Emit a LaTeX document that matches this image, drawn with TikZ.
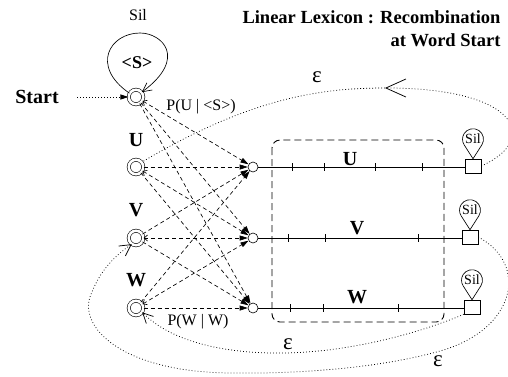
\documentclass[tikz,border=0pt]{standalone}
\usepackage{fontspec}
\setmainfont{Liberation Serif}
\usetikzlibrary{arrows.meta}
\begin{document}
\begin{tikzpicture}[x=1pt,y=-1pt,
  dcirc/.style={draw, circle, double, double distance=2.6pt, line width=0.6pt, minimum size=14.5pt, inner sep=0pt},
  scirc/.style={draw, circle, line width=0.6pt, minimum size=10pt, inner sep=0pt},
  sqbox/.style={draw, rectangle, line width=0.6pt, minimum width=16pt, minimum height=14pt, inner sep=0pt},
  dsh/.style={dash pattern=on 4pt off 3pt, line width=0.65pt},
  dotline/.style={dash pattern=on 0.8pt off 2.2pt, line width=0.75pt},
  tofill/.style={-{Triangle[length=8pt,width=5pt]}},
  bothtip/.style={{Straight Barb[length=3.5pt,width=6pt]}-{Triangle[length=8pt,width=5pt]}},
  blab/.style={font=\bfseries\fontsize{18.5}{20}\selectfont},
  wlab/.style={font=\bfseries\fontsize{20}{22}\selectfont},
  plab/.style={font=\fontsize{16}{18}\selectfont},
  eps/.style={font=\fontsize{23}{24}\selectfont},
  ball/.style={font=\fontsize{14}{15}\selectfont, inner sep=0pt}
]
\useasboundingbox (0,0) rectangle (508,376);

% title
\node[blab, anchor=east] (t1) at (504,17) {Linear Lexicon : Recombination};
\node[blab, anchor=east] (t2) at (504,40) {at Word Start};

% left states
\node[dcirc] (S) at (136,97) {};
\node[dcirc] (U) at (136,167) {};
\node[dcirc] (V) at (136,238) {};
\node[dcirc] (W) at (136,308) {};
\node[wlab] (lU) at (136,140) {U};
\node[wlab] (lV) at (136,210) {V};
\node[wlab] (lW) at (136,280) {W};
\node[font=\fontsize{16}{17}\selectfont] (sil0) at (138,15) {Sil};
\node[font=\bfseries\fontsize{18}{20}\selectfont] (lS) at (137,63) {<S>};
\node[font=\bfseries\fontsize{20}{22}\selectfont] (start) at (37,97) {Start};
\coordinate (st) at (77,97);
\draw[dotline, tofill] (st) -- (S);

% self loop on <S>
\draw[line width=0.65pt, -{Straight Barb[length=9pt,width=9pt]}]
  (S.150) .. controls (90,66) and (110,33) .. (140,33)
  .. controls (162,33) and (188,58) .. (S.40);

% word start circles
\node[scirc] (cU) at (253,167) {};
\node[scirc] (cV) at (253,238) {};
\node[scirc] (cW) at (253,308) {};

% squares
\node[sqbox] (sqU) at (473,166) {};
\node[sqbox] (sqV) at (470,237) {};
\node[sqbox] (sqW) at (472,307) {};

% word lines
\draw[line width=0.75pt] (cU) -- (sqU.west |- cU);
\draw[line width=0.75pt] (cV) -- (sqV.west |- cV);
\draw[line width=0.75pt] (cW) -- (sqW.west |- cW);
\foreach \x in {292,324,375,422} \draw[line width=0.65pt] (\x,163) -- (\x,171);
\foreach \x in {288,325,418} \draw[line width=0.65pt] (\x,234) -- (\x,242);
\foreach \x in {290,323,398} \draw[line width=0.65pt] (\x,304) -- (\x,312);
\node[wlab] (wU) at (350,159) {U};
\node[wlab] (wV) at (357,228) {V};
\node[wlab] (wW) at (357,297) {W};

% dashed box
\draw[dash pattern=on 7pt off 4pt, line width=0.9pt, rounded corners=8pt] (272,140) rectangle (444,322);

% Sil balloons
\foreach \s/\n in {sqU/bU, sqV/bV, sqW/bW} {
  \begin{scope}[shift={(\s.north)}, y=1pt]
    \draw[line width=0.65pt] (0,0) -- (8.85,13.84) arc[start angle=-32.6, end angle=212.6, radius=10.5] -- cycle;
    \node[ball] (\n) at (0,19.5) {Sil};
  \end{scope}
}

% dashed transitions
\foreach \a/\b/\st in {S/cU/bothtip, S/cV/tofill, S/cW/tofill,
                        U/cU/tofill, U/cV/bothtip, U/cW/tofill,
                        V/cU/tofill, V/cV/bothtip, V/cW/tofill,
                        W/cU/tofill, W/cV/bothtip, W/cW/tofill}
  \draw[dsh, \st] (\a) -- (\b);

\node[plab] (pU) at (201,107) {P(U | <S>)};
\node[plab] (pW) at (198,322) {P(W | W)};

% epsilon loops
\coordinate (top) at (385,88);
\draw[dotline, -{Straight Barb[length=20pt,width=18pt]}]
  (sqU.east) .. controls (540,140) and (520,88) .. (top);
\draw[dotline] (top) .. controls (320,88) and (250,98) .. (U.40);
\node[eps] (e1) at (317,77) {ε};

\draw[dotline, -{Straight Barb[length=11pt,width=12pt]}]
  (sqV.east) .. controls (530,265) and (515,330) .. (440,351)
  .. controls (380,368) and (300,374) .. (230,373)
  .. controls (120,372) and (75,325) .. (92,292)
  .. controls (100,272) and (112,258) .. (V.235);
\node[eps] (e3) at (438,361) {ε};

\draw[dotline, -{Straight Barb[length=10pt,width=10pt]}]
  (sqW.south west) .. controls (420,333) and (350,352) .. (285,353)
  .. controls (220,354) and (170,340) .. (W.-35);
\node[eps] (e2) at (288,344) {ε};
\end{tikzpicture}
\end{document}
